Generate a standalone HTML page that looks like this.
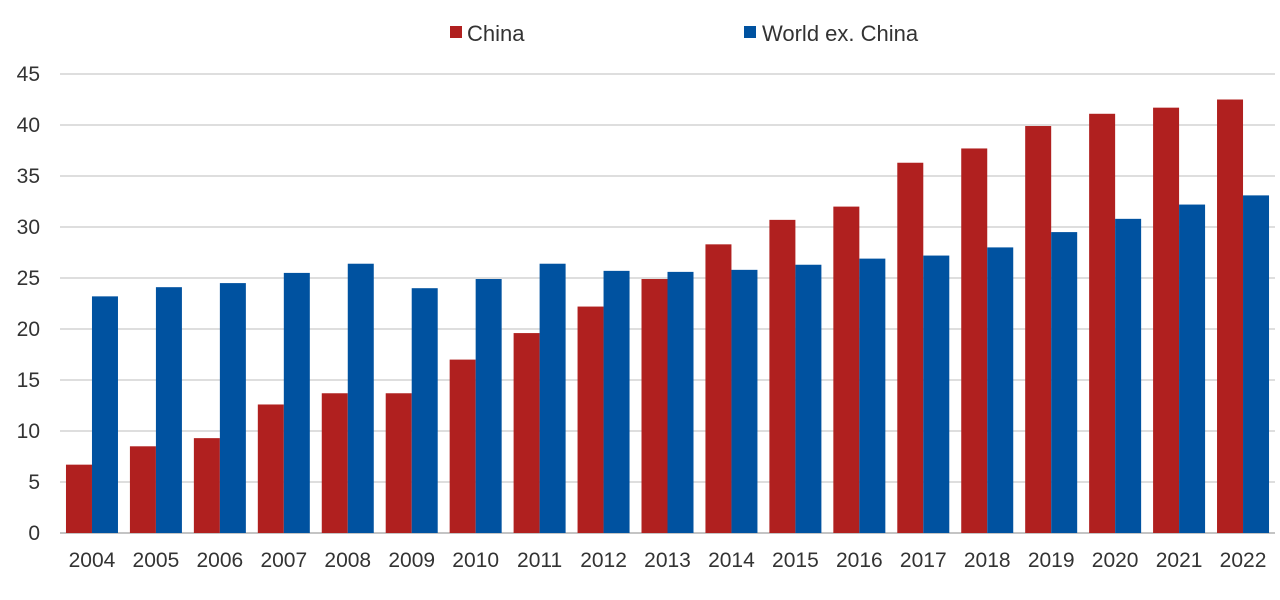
<!DOCTYPE html>
<html><head><meta charset="utf-8"><style>
html,body{margin:0;padding:0;background:#fff;}
svg{display:block;font-family:"Liberation Sans",sans-serif;}
</style></head><body>
<svg id="chart" width="1280" height="600">
<g>
<rect x="450" y="26" width="12" height="12" fill="#B0201F"/>
<text x="467" y="41" font-size="22" fill="#333">China</text>
<rect x="744" y="26" width="12" height="12" fill="#0052A0"/>
<text x="762" y="41" font-size="22" fill="#333">World ex. China</text>
</g>
<g id="grid"></g><g id="bars"></g><g id="xlabels"></g><g id="ylabels"></g>
</svg>
<script>
const years=["2004","2005","2006","2007","2008","2009","2010","2011","2012","2013","2014","2015","2016","2017","2018","2019","2020","2021","2022"];
const china=[6.7,8.5,9.3,12.6,13.7,13.7,17.0,19.6,22.2,24.9,28.3,30.7,32.0,36.3,37.7,39.9,41.1,41.7,42.5];
const world=[23.2,24.1,24.5,25.5,26.4,24.0,24.9,26.4,25.7,25.6,25.8,26.3,26.9,27.2,28.0,29.5,30.8,32.2,33.1];
const yTicks=[0,5,10,15,20,25,30,35,40,45];
const NS="http://www.w3.org/2000/svg";
const x0=60,x1=1275,yBase=533,yTop=74,yMax=45;
const y=v=>yBase-(v/yMax)*(yBase-yTop);
const gw=(x1-x0)/years.length;
const bw=26;
const gx=i=>x0+i*gw+(gw-2*bw)/2;
function mk(t,a,p){const e=document.createElementNS(NS,t);for(const k in a)e.setAttribute(k,a[k]);p.appendChild(e);return e;}
const grid=document.getElementById('grid'),bars=document.getElementById('bars'),xl=document.getElementById('xlabels'),yl=document.getElementById('ylabels');
yTicks.forEach(t=>{
 const l=mk('line',{x1:x0,x2:x1,y1:y(t),y2:y(t),stroke:t===0?'#888':'#bdbdbd','stroke-width':1},grid);
 
 
 const tx=mk('text',{x:40,y:y(t)+7,'font-size':21,fill:'#333','text-anchor':'end'},yl);
 tx.textContent=t;
 
 
});
years.forEach((yr,i)=>{
 const r1=mk('rect',{x:gx(i),y:y(china[i]),width:bw,height:yBase-y(china[i]),fill:'#B0201F'},bars);
 
 
 const r2=mk('rect',{x:gx(i)+bw,y:y(world[i]),width:bw,height:yBase-y(world[i]),fill:'#0052A0'},bars);
 
 
 const t=mk('text',{x:x0+i*gw+gw/2,y:567,'font-size':21,fill:'#333','text-anchor':'middle'},xl);
 t.textContent=yr;
 
 
});
</script>
</body></html>
